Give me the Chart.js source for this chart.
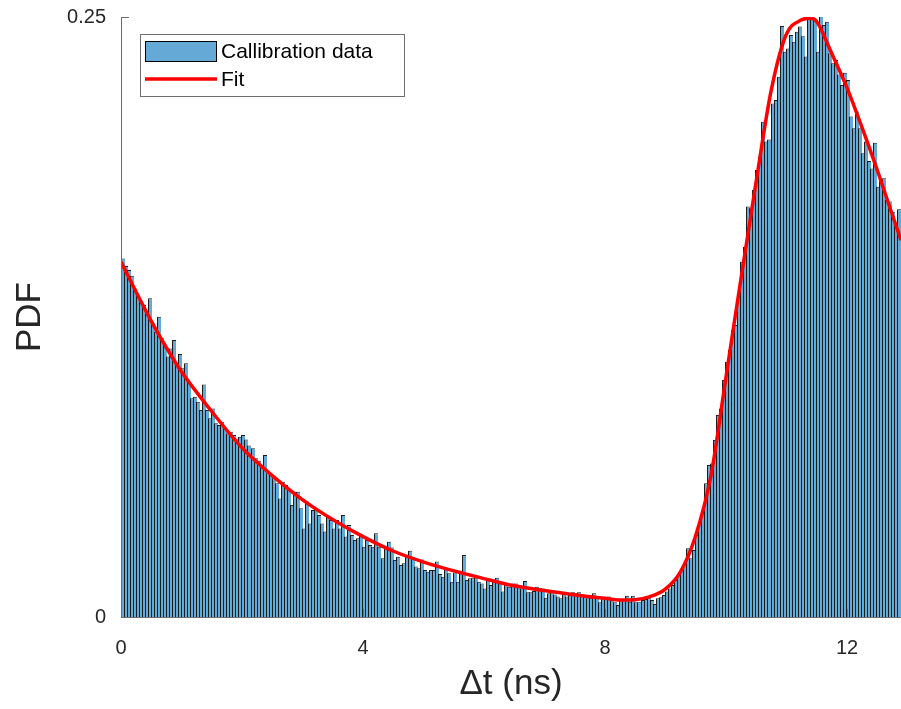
<!DOCTYPE html>
<html>
<head>
<meta charset="utf-8">
<script src="https://cdn.jsdelivr.net/npm/chart.js@4.4.1/dist/chart.umd.min.js"></script>
<style>
  html, body { margin: 0; padding: 0; background: #fff; }
</style>
</head>
<body>
<canvas id="pdfChart" width="901" height="709"></canvas>
<script>
// histogram bins (ns)
const binStart = 0;
const binWidth = 0.05;

// PDF height of every bin
const pdfValues = [
  0.1494, 0.1463, 0.1446, 0.1422, 0.1369, 0.1339, 0.1314, 0.1300, 0.1265, 0.1328,
  0.1224, 0.1189, 0.1251, 0.1161, 0.1133, 0.1085, 0.1119, 0.1154, 0.1050, 0.1096,
  0.1036, 0.1057, 0.0981, 0.0911, 0.0918, 0.0897, 0.0863, 0.0969, 0.0863, 0.0828,
  0.0869, 0.0807, 0.0800, 0.0814, 0.0786, 0.0765, 0.0772, 0.0758, 0.0744, 0.0751,
  0.0758, 0.0740, 0.0715, 0.0703, 0.0661, 0.0651, 0.0633, 0.0675, 0.0599, 0.0592,
  0.0578, 0.0557, 0.0494, 0.0564, 0.0550, 0.0529, 0.0467, 0.0522, 0.0522, 0.0453,
  0.0369, 0.0481, 0.0390, 0.0446, 0.0453, 0.0425, 0.0390, 0.0356, 0.0418, 0.0404,
  0.0369, 0.0404, 0.0369, 0.0425, 0.0335, 0.0383, 0.0342, 0.0321, 0.0328, 0.0342,
  0.0293, 0.0321, 0.0300, 0.0293, 0.0349, 0.0293, 0.0245, 0.0293, 0.0314, 0.0290,
  0.0238, 0.0251, 0.0217, 0.0224, 0.0258, 0.0276, 0.0249, 0.0210, 0.0203, 0.0240,
  0.0196, 0.0189, 0.0196, 0.0196, 0.0231, 0.0179, 0.0168, 0.0203, 0.0182, 0.0147,
  0.0185, 0.0147, 0.0185, 0.0258, 0.0154, 0.0161, 0.0161, 0.0165, 0.0147, 0.0140,
  0.0119, 0.0154, 0.0133, 0.0154, 0.0164, 0.0140, 0.0106, 0.0143, 0.0126, 0.0140,
  0.0140, 0.0126, 0.0119, 0.0150, 0.0103, 0.0103, 0.0108, 0.0126, 0.0122, 0.0119,
  0.0080, 0.0099, 0.0113, 0.0094, 0.0085, 0.0078, 0.0103, 0.0085, 0.0092, 0.0103,
  0.0099, 0.0103, 0.0089, 0.0085, 0.0078, 0.0080, 0.0099, 0.0078, 0.0061, 0.0078,
  0.0080, 0.0085, 0.0071, 0.0061, 0.0050, 0.0071, 0.0071, 0.0089, 0.0064, 0.0089,
  0.0061, 0.0061, 0.0071, 0.0075, 0.0078, 0.0071, 0.0054, 0.0078, 0.0082, 0.0092,
  0.0106, 0.0119, 0.0133, 0.0154, 0.0175, 0.0196, 0.0224, 0.0286, 0.0245, 0.0279,
  0.0342, 0.0390, 0.0446, 0.0557, 0.0633, 0.0640, 0.0738, 0.0842, 0.0869, 0.0988,
  0.1064, 0.1113, 0.1196, 0.1217, 0.1335, 0.1480, 0.1543, 0.1710, 0.1703, 0.1779,
  0.1863, 0.1918, 0.2064, 0.1981, 0.1990, 0.2140, 0.2154, 0.2251, 0.2463, 0.2355,
  0.2369, 0.2425, 0.2397, 0.2439, 0.2460, 0.2420, 0.2335, 0.2499, 0.2508, 0.2487,
  0.2355, 0.2508, 0.2467, 0.2480, 0.2349, 0.2307, 0.2321, 0.2260, 0.2217, 0.2268,
  0.2238, 0.2085, 0.2036, 0.2106, 0.2036, 0.1932, 0.1981, 0.1900, 0.1869, 0.1976,
  0.1793, 0.1821, 0.1828, 0.1738, 0.1731, 0.1689, 0.1640, 0.1699
];

// fit curve
const fitTimes = [0, 0.25, 0.5, 0.75, 1, 1.5, 2, 2.5, 3, 3.5, 4, 4.5, 5, 5.5, 6, 6.5, 7, 7.5,
  8, 8.25, 8.5, 8.75, 9, 9.25, 9.5, 9.75, 10, 10.25, 10.5, 10.75, 11, 11.25, 11.4, 11.5,
  11.75, 12, 12.25, 12.5, 12.75, 12.9];
const fitValues = [0.148, 0.1355, 0.1235, 0.1125, 0.1025, 0.0855, 0.0705, 0.0590, 0.0490,
  0.0405, 0.0335, 0.0275, 0.0230, 0.0192, 0.0160, 0.0130, 0.0110, 0.0093, 0.0078, 0.0071,
  0.0072, 0.0085, 0.0115, 0.0185, 0.0330, 0.0590, 0.1000, 0.1410, 0.1810, 0.2190, 0.2425,
  0.2487, 0.2495, 0.2485, 0.2355, 0.2205, 0.2040, 0.1865, 0.1680, 0.1570];

const xTicks = [0, 4, 8, 12];
const yTicks = [0, 0.25];
const xMax = 12.9;

const axisColor = '#262626';
const fontFamily = '"Liberation Sans", Arial, Helvetica, sans-serif';

const binCenters = pdfValues.map((v, i) => binStart + binWidth * (i + 0.5));

// MATLAB style axes: left and bottom lines, ticks pointing inward
const axesPlugin = {
    id: 'matlabAxes',
    afterDatasetsDraw(chart) {
        const { ctx, chartArea, scales } = chart;
        const { left, right, top, bottom } = chartArea;
        ctx.save();
        ctx.strokeStyle = '#6e6e6e';
        ctx.lineWidth = 1;
        ctx.beginPath();
        ctx.moveTo(left + 0.5, top);
        ctx.lineTo(left + 0.5, bottom + 1);
        ctx.moveTo(left, bottom + 0.5);
        ctx.lineTo(right, bottom + 0.5);
        xTicks.forEach(v => {
            const px = Math.round(scales.x.getPixelForValue(v)) + 0.5;
            ctx.moveTo(px, bottom);
            ctx.lineTo(px, bottom - 8);
        });
        yTicks.forEach(v => {
            const py = Math.round(scales.y.getPixelForValue(v)) + 0.5;
            ctx.moveTo(left, py);
            ctx.lineTo(left + 8, py);
        });
        ctx.stroke();
        ctx.restore();
    }
};

// boxed legend in the upper left corner of the plot
const legendPlugin = {
    id: 'boxLegend',
    afterDraw(chart) {
        const ctx = chart.ctx;
        const fitSet = chart.data.datasets[0];
        const barSet = chart.data.datasets[1];
        ctx.save();
        ctx.fillStyle = '#ffffff';
        ctx.fillRect(140, 34, 264, 62);
        ctx.strokeStyle = '#6e6e6e';
        ctx.lineWidth = 1;
        ctx.strokeRect(140.5, 34.5, 264, 62);

        ctx.fillStyle = barSet.backgroundColor;
        ctx.fillRect(145.5, 41.5, 71, 20);
        ctx.strokeStyle = '#000000';
        ctx.strokeRect(145.5, 41.5, 71, 20);

        ctx.strokeStyle = fitSet.borderColor;
        ctx.lineWidth = 3.5;
        ctx.beginPath();
        ctx.moveTo(145, 79);
        ctx.lineTo(217, 79);
        ctx.stroke();

        ctx.fillStyle = '#000000';
        ctx.font = '21px ' + fontFamily;
        ctx.textBaseline = 'middle';
        ctx.fillText(barSet.label, 221, 52);
        ctx.fillText(fitSet.label, 221, 80);
        ctx.restore();
    }
};

const ctx = document.getElementById('pdfChart').getContext('2d');
new Chart(ctx, {
    type: 'bar',
    data: {
        datasets: [{
            type: 'line',
            label: 'Fit',
            data: fitTimes.map((t, i) => ({ x: t, y: fitValues[i] })),
            borderColor: '#ff0000',
            borderWidth: 3.5,
            pointRadius: 0,
            cubicInterpolationMode: 'monotone',
            fill: false,
            order: 0
        }, {
            type: 'bar',
            label: 'Callibration data',
            data: binCenters.map((x, i) => ({ x: x, y: pdfValues[i] })),
            backgroundColor: '#65a9d7',
            borderColor: '#1c1c1c',
            borderWidth: { top: 1, left: 1, right: 0, bottom: 0 },
            borderSkipped: false,
            inflateAmount: 0,
            barThickness: 4,
            order: 1
        }]
    },
    options: {
        responsive: false,
        animation: false,
        devicePixelRatio: 1,
        layout: { padding: { top: 0, right: 0, bottom: 0, left: 0 } },
        plugins: {
            legend: { display: false },
            tooltip: { enabled: false }
        },
        scales: {
            x: {
                type: 'linear',
                min: 0,
                max: xMax,
                offset: false,
                alignToPixels: true,
                afterBuildTicks: s => { s.ticks = xTicks.map(v => ({ value: v })); },
                afterFit: s => { s.height = 92; },
                grid: { display: false, offset: false },
                border: { display: false },
                ticks: {
                    autoSkip: false,
                    maxRotation: 0,
                    padding: 11,
                    color: axisColor,
                    font: { family: fontFamily, size: 20 },
                    callback: v => String(v)
                },
                title: {
                    display: true,
                    text: 'Δt (ns)',
                    color: axisColor,
                    font: { family: fontFamily, size: 35 },
                    padding: { top: 0, bottom: 4 }
                }
            },
            y: {
                min: 0,
                max: 0.25,
                afterBuildTicks: s => { s.ticks = yTicks.map(v => ({ value: v })); },
                afterFit: s => { s.width = 121; },
                grid: { display: false },
                border: { display: false },
                ticks: {
                    padding: 7,
                    color: axisColor,
                    font: { family: fontFamily, size: 20, lineHeight: 1 },
                    callback: v => String(v)
                },
                title: {
                    display: true,
                    text: 'PDF',
                    color: axisColor,
                    font: { family: fontFamily, size: 35 },
                    padding: { top: 9, bottom: 0 }
                }
            }
        }
    },
    plugins: [axesPlugin, legendPlugin]
});
</script>
</body>
</html>
